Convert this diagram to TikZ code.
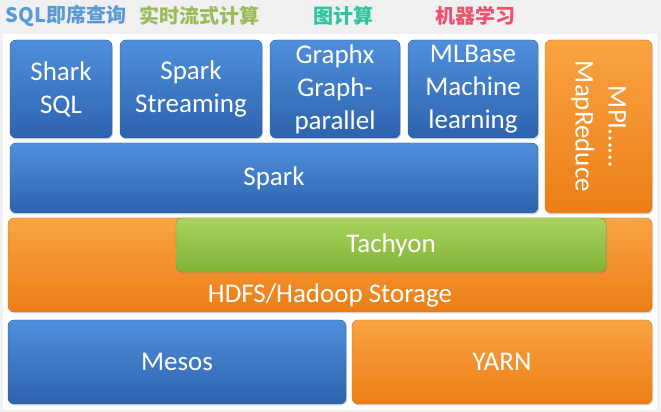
\documentclass[tikz,border=0pt]{standalone}
\usepackage{fontspec}
\setmainfont{Carlito}
\newfontfamily\cjk{Noto Sans CJK SC}
\usetikzlibrary{positioning,shadows}

\definecolor{pageGray}{HTML}{F0F0F0}
\definecolor{blueTop}{HTML}{4F8FDC}
\definecolor{blueBot}{HTML}{2E63AD}
\definecolor{blueEdge}{HTML}{2A5A9E}
\definecolor{orangeTop}{HTML}{F9A343}
\definecolor{orangeBot}{HTML}{EC7E16}
\definecolor{orangeEdge}{HTML}{D9731A}
\definecolor{greenTop}{HTML}{A9D25E}
\definecolor{greenBot}{HTML}{82B236}
\definecolor{greenEdge}{HTML}{76A02F}
\definecolor{sqlBlue}{HTML}{5B9BD5}
\definecolor{streamGreen}{HTML}{9BBB59}
\definecolor{graphTeal}{HTML}{2EC4A0}
\definecolor{mlRed}{HTML}{F0506E}

\begin{document}
\begin{tikzpicture}[x=1pt,y=1pt,
  layer/.style={rounded corners=6pt, align=center, text=white, inner sep=0pt,
    font=\fontsize{27}{33}\selectfont,
    drop shadow={shadow xshift=1pt,shadow yshift=-1.5pt,opacity=0.3}},
  bluebox/.style={layer, draw=blueEdge, top color=blueTop, bottom color=blueBot},
  orangebox/.style={layer, draw=orangeEdge, top color=orangeTop, bottom color=orangeBot},
  greenbox/.style={layer, draw=greenEdge, top color=greenTop, bottom color=greenBot},
  layertext/.style={text=white, align=center, inner sep=0pt, font=\fontsize{27}{33}\selectfont},
  caption/.style={font=\cjk\bfseries\fontsize{20}{24}\selectfont}]

  \useasboundingbox (0,0) rectangle (661,412);
  \fill[pageGray] (0,0) rectangle (661,412);
  \fill[white] (3,2) rectangle (657,378);

  % captions on top
  \node[caption, text=sqlBlue] (cap1) at (66,396) {SQL即席查询};
  \node[caption, text=streamGreen] (cap2) at (199,396) {实时流式计算};
  \node[caption, text=graphTeal] (cap3) at (343,396) {图计算};
  \node[caption, text=mlRed] (cap4) at (475,396) {机器学习};

  % libraries
  \node[bluebox, minimum width=102, minimum height=98] (shark) at (61,323) {Shark\\SQL};
  \node[bluebox, minimum width=142, minimum height=98] (streaming) at (191,323) {Spark\\Streaming};
  \node[bluebox, minimum width=130, minimum height=98] (graphx) at (335,323) {Graphx\\Graph-\\parallel};
  \node[bluebox, minimum width=130, minimum height=98] (mlbase) at (473,323) {MLBase\\Machine\\learning};
  \node[orangebox, minimum width=107, minimum height=173] (mpi) at (598.5,285.5) {};
  \node[layertext, rotate=-90] (mpitext) at (mpi) {MPI……\\MapReduce};

  % engine
  \node[bluebox, minimum width=528, minimum height=70] (spark) at (274,234) {Spark};

  % storage
  \node[orangebox, minimum width=644, minimum height=94] (hdfs) at (330,147) {};
  \node[layertext, above=5 of hdfs.south] (hdfstext) {HDFS/Hadoop Storage};
  \node[greenbox, minimum width=430, minimum height=54] (tachyon) at (391,167) {Tachyon};

  % resource managers
  \node[bluebox, minimum width=338, minimum height=84] (mesos) at (177,50) {Mesos};
  \node[orangebox, minimum width=300, minimum height=84] (yarn) at (502,50) {YARN};
\end{tikzpicture}
\end{document}
